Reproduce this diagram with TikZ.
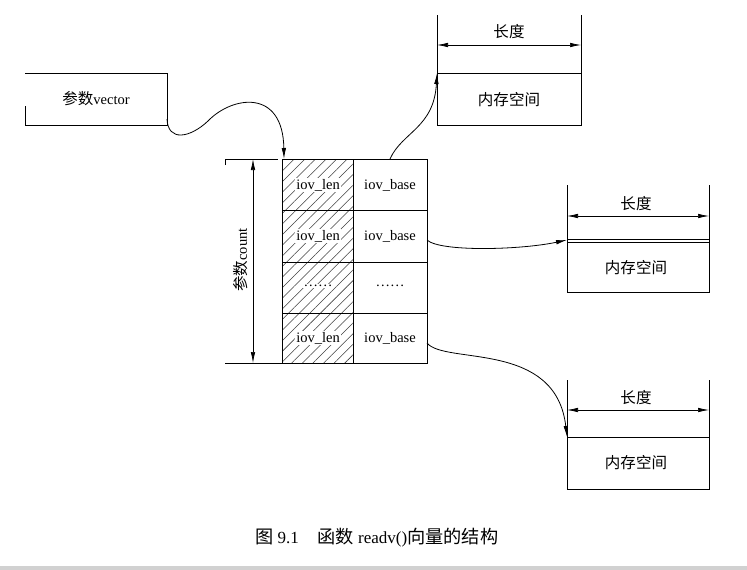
\documentclass[tikz,border=0pt]{standalone}
\usepackage{fontspec}
\setmainfont{Liberation Serif}
\newfontfamily\cjk[Scale=1.07]{Noto Sans CJK SC}
\usetikzlibrary{arrows.meta,patterns.meta}
\newcommand{\zh}[1]{{\cjk #1}}
\begin{document}
\begin{tikzpicture}[x=1pt,y=-1pt,
  box/.style={draw=black,line width=0.8pt},
  ln/.style={draw=black,line width=0.8pt},
  dimarr/.style={draw=black,line width=0.7pt,{Latex[length=11pt,width=4.5pt]}-{Latex[length=11pt,width=4.5pt]}},
  conn/.style={draw=black,line width=0.8pt,-{Latex[length=11pt,width=4.5pt]}},
  lbl/.style={font=\fontsize{14.5}{16}\selectfont,inner sep=1pt},
  hlbl/.style={font=\fontsize{14.5}{16}\selectfont,inner sep=1pt,fill=white},
  hatch/.style={pattern={Lines[angle=45,distance=7.5pt,line width=0.55pt]},pattern color=black!75}
]
\useasboundingbox (0,0) rectangle (747,570);
\fill[white] (0,0) rectangle (747,570);
% page bottom band
\fill[black!18] (0,566) rectangle (747,570);

% --- vector box (open left, partial)
\draw[ln] (25,73) -- (167,73) -- (167,125) -- (25,125) -- (25,106);
\node[lbl] (vec) at (96,99) {\zh{参数}vector};
\coordinate (vecout) at (167,119);

% --- array
\fill[hatch] (282,159) rectangle (353,363);
\draw[box] (282,159) rectangle (427,363);
\draw[ln] (353,159) -- (353,363);
\draw[ln] (282,210) -- (427,210);
\draw[ln] (282,262) -- (427,262);
\draw[ln] (282,313) -- (427,313);
\coordinate (arrtop) at (284,159);
\node[hlbl] (l1) at (318,185) {iov\_len};
\node[lbl] (b1) at (390,185) {iov\_base};
\node[hlbl] (l2) at (318,236) {iov\_len};
\node[lbl] (b2) at (390,236) {iov\_base};
\node[hlbl] (l3) at (318,286) {……};
\node[lbl] (b3) at (390,286) {……};
\node[hlbl] (l4) at (318,338) {iov\_len};
\node[lbl] (b4) at (390,338) {iov\_base};
\coordinate (o1) at (390,159);
\coordinate (o2) at (427,240);
\coordinate (o3) at (427,343);

% --- count bracket
\draw[ln] (225,165) -- (225,159) -- (278,159);
\draw[ln] (225,363) -- (282,363);
\coordinate (ct) at (253,159);
\coordinate (cb) at (253,363);
\draw[dimarr] (ct) -- (cb);
\node[lbl,rotate=90] (cnt) at (241,260) {\zh{参数}count};

% --- memory block 1
\draw[ln] (437,15) -- (437,125) -- (581,125) -- (581,15);
\draw[ln] (437,73) -- (581,73);
\coordinate (m1l) at (437,45);
\coordinate (m1r) at (581,45);
\draw[dimarr] (m1l) -- (m1r);
\node[lbl] (len1) at (509,32) {\zh{长度}};
\node[lbl] (mem1) at (509,100) {\zh{内存空间}};
\coordinate (i1) at (437,73);

% --- memory block 2
\draw[ln] (567,185) -- (567,292) -- (709,292) -- (709,185);
\draw[line width=0.5pt] (567,239) -- (709,239);
\draw[line width=0.5pt] (567,242) -- (709,242);
\coordinate (m2l) at (567,216);
\coordinate (m2r) at (709,216);
\draw[dimarr] (m2l) -- (m2r);
\node[lbl] (len2) at (636,204) {\zh{长度}};
\node[lbl] (mem2) at (636,268) {\zh{内存空间}};
\coordinate (i2) at (567,240);

% --- memory block 3
\draw[ln] (567,380) -- (567,489) -- (709,489) -- (709,380);
\draw[ln] (567,437) -- (709,437);
\coordinate (m3l) at (567,410);
\coordinate (m3r) at (709,410);
\draw[dimarr] (m3l) -- (m3r);
\node[lbl] (len3) at (636,398) {\zh{长度}};
\node[lbl] (mem3) at (636,463) {\zh{内存空间}};
\coordinate (i3) at (567,437);

% --- connectors
\draw[conn] (vecout) .. controls (168,142) and (190,138) .. (208,121)
  .. controls (232,96) and (283,88) .. (arrtop);
\draw[conn] (o1) .. controls (402,132) and (434,128) .. (i1);
\draw[conn] (o2) .. controls (440,252) and (520,250) .. (i2);
\draw[conn] (o3) .. controls (445,365) and (556,340) .. (i3);

% --- caption
\node[font=\fontsize{17}{19}\selectfont,anchor=west,inner sep=0pt] (cap) at (255,538)
  {\zh{图} 9.1\hspace{1.1em}\zh{函数} readv()\zh{向量的结构}};
\end{tikzpicture}
\end{document}
